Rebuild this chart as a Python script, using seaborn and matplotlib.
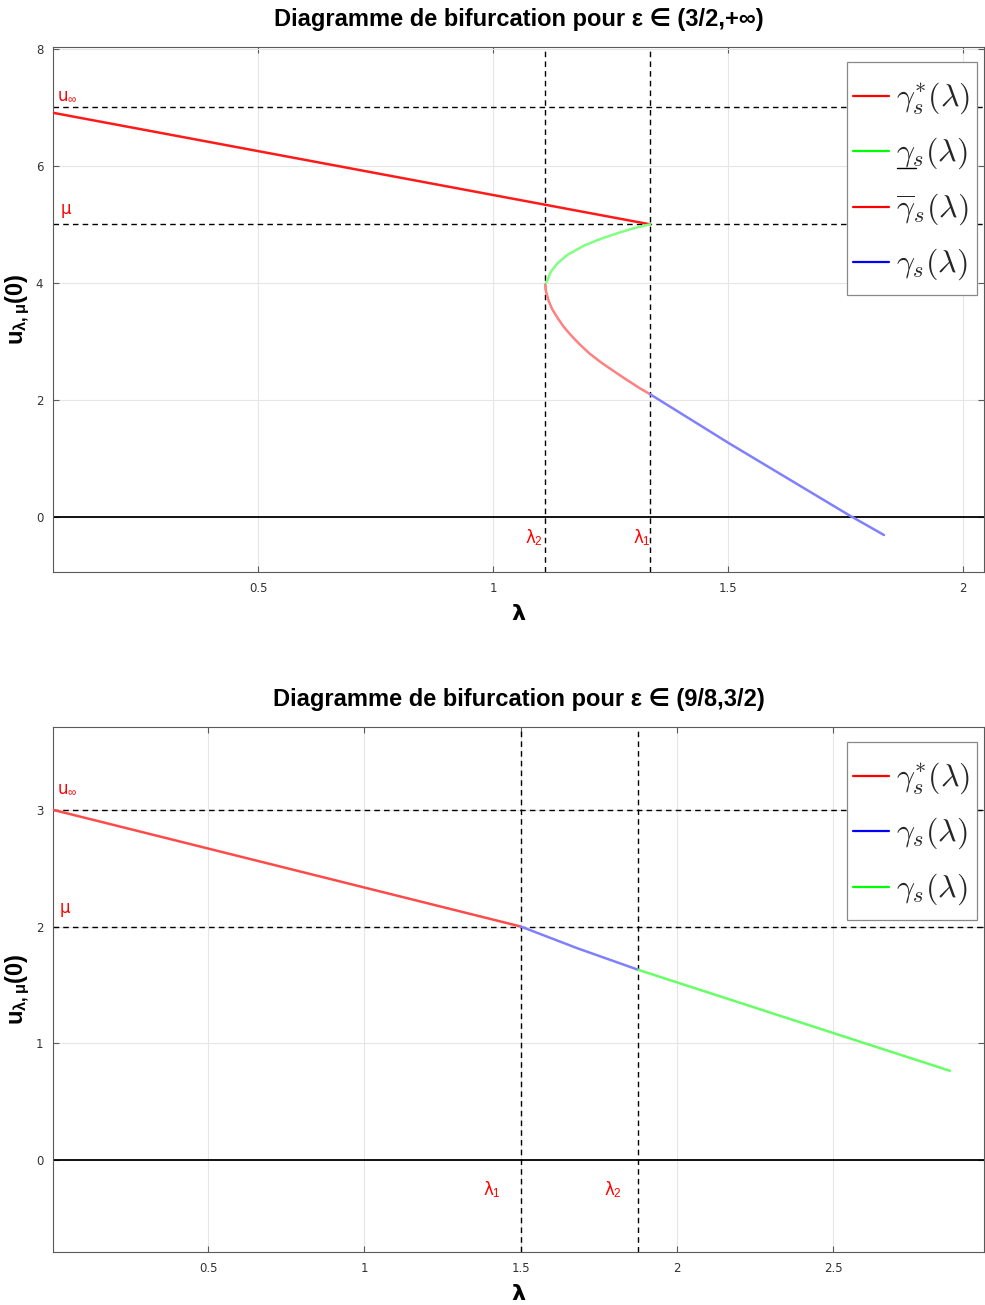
import numpy as np
import pandas as pd
import seaborn as sns
import matplotlib
matplotlib.use("Agg")
import matplotlib.pyplot as plt
from matplotlib.lines import Line2D
from matplotlib.font_manager import FontProperties
from matplotlib.legend_handler import HandlerLine2D

# ---------------- data ----------------
# top panel : eps in (3/2, +inf)
top_star_lam = [0.0625, 1.334]
top_star_u = [6.906, 5.0]
top_under_lam = [1.334, 1.300, 1.2645, 1.229, 1.1936, 1.158, 1.137, 1.1228, 1.114, 1.1106]
top_under_u = [5.0, 4.935, 4.849, 4.752, 4.638, 4.479, 4.337, 4.193, 4.022, 3.97]
top_over_lam = [1.1106, 1.1125, 1.1175, 1.1255, 1.137, 1.150, 1.166, 1.184, 1.204,
                1.228, 1.255, 1.283, 1.312, 1.334]
top_over_u = [3.97, 3.85, 3.70, 3.55, 3.40, 3.25, 3.10, 2.95, 2.80,
              2.65, 2.50, 2.35, 2.20, 2.097]
top_plain_lam = [1.334, 1.502, 1.757, 1.832]
top_plain_u = [2.097, 1.26, 0.034, -0.308]
top_u_inf, top_mu = 7.0, 5.0
top_lam1, top_lam2 = 1.334, 1.111
top_xticks = [0.5, 1, 1.5, 2]
top_yticks = [0, 2, 4, 6, 8]

# bottom panel : eps in (9/8, 3/2)
bot_star_lam = [0.003, 1.5]
bot_star_u = [3.0, 2.0]
bot_blue_lam = [1.5, 1.681, 1.877]
bot_blue_u = [2.0, 1.814, 1.628]
bot_green_lam = [1.877, 2.874]
bot_green_u = [1.628, 0.763]
bot_u_inf, bot_mu = 3.0, 2.0
bot_lam1, bot_lam2 = 1.5, 1.877
bot_xticks = [0.5, 1, 1.5, 2, 2.5]
bot_yticks = [0, 1, 2, 3]

top_labels = [r"$\gamma_s^{*}(\lambda)$", r"$\gamma_s(\lambda)$",
              r"$\overline{\gamma}_s(\lambda)$", r"$\gamma_s(\lambda)$"]
bot_labels = [r"$\gamma_s^{*}(\lambda)$", r"$\gamma_s(\lambda)$", r"$\gamma_s(\lambda)$"]

# ---------------- style ----------------
sns.set_theme(style="whitegrid")
plt.rcParams["font.family"] = ["DejaVu Sans"]
plt.rcParams["mathtext.fontset"] = "custom"
plt.rcParams["mathtext.rm"] = "Liberation Sans"
plt.rcParams["mathtext.bf"] = "Liberation Sans:bold"
plt.rcParams["mathtext.it"] = "Liberation Sans:italic"

TITLE_FAM = ["Liberation Sans", "DejaVu Sans"]
W, H = 985, 1305
fig = plt.figure(figsize=(W / 100, H / 100), dpi=100)
fig.patch.set_facecolor("white")


def px_axes(x0, y0, x1, y1):
    return fig.add_axes([x0 / W, 1 - y1 / H, (x1 - x0) / W, (y1 - y0) / H])


ax1 = px_axes(53, 47, 984, 572)
ax2 = px_axes(53, 727, 984, 1252)


def style_axes(ax, xlim, ylim, xticks, yticks):
    ax.set_xlim(*xlim)
    ax.set_ylim(*ylim)
    ax.set_xticks(xticks)
    ax.set_yticks(yticks)
    ax.set_xticklabels([f"{t:g}" for t in xticks])
    ax.set_yticklabels([f"{t:g}" for t in yticks])
    ax.set_facecolor("white")
    ax.grid(True, color="#e6e6e6", lw=0.8)
    ax.set_axisbelow(True)
    for s in ax.spines.values():
        s.set_color("#5a5a5a")
        s.set_linewidth(0.8)
    ax.tick_params(direction="in", length=4, width=0.8, color="#5a5a5a",
                   labelcolor="#333333", labelsize=8.5,
                   bottom=True, top=True, left=True, right=True, pad=7)


def ref_lines(ax, u_inf, mu, lam1, lam2):
    dash = (0, (4, 3))
    for yv in (u_inf, mu):
        ax.axhline(yv, color="black", lw=1.0, ls=dash, zorder=2)
    for xv in (lam1, lam2):
        ax.axvline(xv, color="black", lw=1.0, ls=dash, zorder=2)
    ax.axhline(0, color="black", lw=1.3, zorder=2)


def curve(ax, lam, u, color):
    sns.lineplot(x=lam, y=u, sort=False, estimator=None, color=color,
                 lw=1.8, ax=ax, zorder=3)


def labels(ax, title):
    ax.set_title(title, fontsize=17, fontweight="bold", family=TITLE_FAM,
                 color="black", pad=15)
    ax.set_xlabel("λ", fontsize=16, fontweight="bold", labelpad=7, color="black")
    ax.set_ylabel(r"$\mathbf{u_{λ,μ}(0)}$", fontsize=17, labelpad=3, color="black")


# ---------------- top panel ----------------
style_axes(ax1, (0.0625, 2.045), (-0.94, 8.03), top_xticks, top_yticks)
ref_lines(ax1, top_u_inf, top_mu, top_lam1, top_lam2)
curve(ax1, top_star_lam, top_star_u, "#ff1a1a")
curve(ax1, top_under_lam, top_under_u, "#80ff80")
curve(ax1, top_over_lam, top_over_u, "#ff8080")
curve(ax1, top_plain_lam, top_plain_u, "#8080ff")

ax1.text(0.070, 7.21, r"u$_{\infty}$", color="red", fontsize=12, ha="left", va="center")
ax1.text(0.089, 5.26, "μ", color="red", fontsize=12, ha="center", va="center")
ax1.text(1.087, -0.36, r"λ$_2$", color="red", fontsize=12, ha="center", va="center")
ax1.text(1.317, -0.36, r"λ$_1$", color="red", fontsize=12, ha="center", va="center")
labels(ax1, "Diagramme de bifurcation pour ε ∈ (3/2,+∞)")

# ---------------- bottom panel ----------------
style_axes(ax2, (0.003, 2.983), (-0.79, 3.71), bot_xticks, bot_yticks)
ref_lines(ax2, bot_u_inf, bot_mu, bot_lam1, bot_lam2)
curve(ax2, bot_star_lam, bot_star_u, "#ff4a4a")
curve(ax2, bot_blue_lam, bot_blue_u, "#8080ff")
curve(ax2, bot_green_lam, bot_green_u, "#66ff66")

ax2.text(0.017, 3.18, r"u$_{\infty}$", color="red", fontsize=12, ha="left", va="center")
ax2.text(0.042, 2.16, "μ", color="red", fontsize=12, ha="center", va="center")
ax2.text(1.409, -0.257, r"λ$_1$", color="red", fontsize=12, ha="center", va="center")
ax2.text(1.796, -0.257, r"λ$_2$", color="red", fontsize=12, ha="center", va="center")
labels(ax2, "Diagramme de bifurcation pour ε ∈ (9/8,3/2)")


# ---------------- legends ----------------
class ShiftedLine(HandlerLine2D):
    """Line handle moved down so that it sits at the middle of the text."""
    def create_artists(self, legend, orig_handle, xdescent, ydescent,
                       width, height, fontsize, trans):
        arts = super().create_artists(legend, orig_handle, xdescent, ydescent,
                                      width, height, fontsize, trans)
        for a in arts:
            a.set_ydata(np.asarray(a.get_ydata(), dtype=float) - 6.3)
        return arts


legprop = FontProperties(size=23, math_fontfamily="cm")


def make_legend(ax, colors, labs):
    handles = [Line2D([0], [0], color=c, lw=1.6) for c in colors]
    bw = ax.get_window_extent().width
    bh = ax.get_window_extent().height
    leg = ax.legend(handles, labs, loc="upper right",
                    bbox_to_anchor=(1 - 7 / bw, 1 - 15 / bh), borderaxespad=0,
                    prop=legprop, frameon=True, fancybox=False,
                    edgecolor="#888888", facecolor="white", framealpha=1,
                    handlelength=1.13, handletextpad=0.22, labelspacing=0.05,
                    handleheight=2.22, borderpad=0.2,
                    handler_map={Line2D: ShiftedLine()})
    leg.get_frame().set_linewidth(0.9)
    return leg


leg1 = make_legend(ax1, ["#ff0000", "#00ff00", "#ff0000", "#0000ff"], top_labels)
leg2 = make_legend(ax2, ["#ff0000", "#0000ff", "#00ff00"], bot_labels)

# underline the gamma of the second entry of the top legend
fig.canvas.draw()
renderer = fig.canvas.get_renderer()
t = leg1.get_texts()[1]
bb = t.get_window_extent(renderer)
x0 = bb.x0 + 0.01 * bb.width
x1 = bb.x0 + 0.27 * bb.width
yy = bb.y0 + 0.08 * bb.height
(fx0, fy), (fx1, _) = fig.transFigure.inverted().transform([(x0, yy), (x1, yy)])
fig.add_artist(Line2D([fx0, fx1], [fy, fy], transform=fig.transFigure,
                      color="black", lw=1.0, zorder=10))

fig.savefig("out.png", dpi=100, facecolor="white")
